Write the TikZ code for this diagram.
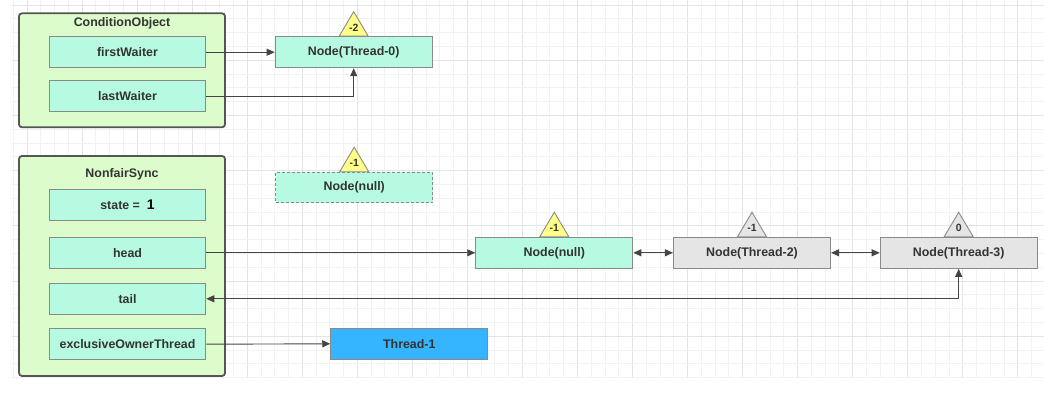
\documentclass[tikz,border=0pt]{standalone}
\usepackage{fontspec}
\setmainfont{Liberation Sans}
\usetikzlibrary{arrows.meta,calc}
\definecolor{gridminor}{HTML}{F2F2F2}
\definecolor{gridmajor}{HTML}{E4E4E4}
\definecolor{contfill}{HTML}{DDFCCB}
\definecolor{contline}{HTML}{555555}
\definecolor{mint}{HTML}{B6FBE1}
\definecolor{boxline}{HTML}{8A8A8A}
\definecolor{txt}{HTML}{333333}
\definecolor{yel}{HTML}{FFFF88}
\definecolor{graynode}{HTML}{E5E5E5}
\definecolor{bluenode}{HTML}{35B5FF}
\definecolor{arrline}{HTML}{444444}
\tikzset{
  container/.style={draw=contline, fill=contfill, line width=1.8pt, rounded corners=3pt},
  fieldbox/.style={draw=boxline, fill=mint, line width=1.1pt, minimum width=156.4pt, minimum height=31pt, inner sep=0pt, text=txt, font=\fontsize{12.4}{14}\selectfont\bfseries},
  nodebox/.style={fieldbox, minimum width=157pt},
  graybox/.style={nodebox, fill=graynode},
  bluebox/.style={nodebox, fill=bluenode},
  dashbox/.style={nodebox, dashed, dash pattern=on 3pt off 2pt, minimum height=30.4pt},
  title/.style={text=txt, font=\fontsize{12.4}{14}\selectfont\bfseries, inner sep=0pt},
  tri/.style={draw=boxline, line width=0.9pt, line join=miter},
  trilabel/.style={text=txt, font=\fontsize{10.5}{12}\selectfont\bfseries, inner sep=0pt},
  arr/.style={draw=arrline, line width=0.9pt, -{Triangle[length=8pt,width=7pt]}},
  darr/.style={draw=arrline, line width=0.9pt, {Triangle[length=8pt,width=7pt]}-{Triangle[length=8pt,width=7pt]}},
}
\newcommand{\mytri}[3]{% node, fill, label
  \draw[tri, fill=#2] ([xshift=-14.5pt]#1.north) -- ([yshift=24.5pt]#1.north) -- ([xshift=14.5pt]#1.north) -- cycle;
  \node[trilabel] (#1lbl) at ([yshift=8.5pt]#1.north) {#3};
}
\begin{document}
\begin{tikzpicture}[x=1pt,y=-1pt]
\useasboundingbox[fill=white] (0,0) rectangle (1044,403);
% grid
\foreach \k in {0,...,74} {
  \pgfmathsetmacro{\gx}{13.3+13.76*\k}
  \pgfmathtruncatemacro{\m}{mod(\k,4)}
  \ifnum\m=1 \draw[gridmajor, line width=0.9pt] (\gx,0) -- (\gx,377.7);
  \else \draw[gridminor, line width=0.9pt] (\gx,0) -- (\gx,377.7); \fi
}
\foreach \k in {0,...,27} {
  \pgfmathsetmacro{\gy}{5+13.8*\k}
  \pgfmathtruncatemacro{\m}{mod(\k,4)}
  \ifnum\m=0 \draw[gridmajor, line width=0.9pt] (12,\gy) -- (1044,\gy);
  \else \draw[gridminor, line width=0.9pt] (12,\gy) -- (1044,\gy); \fi
}
% containers
\draw[container] (19,13.3) rectangle (225,127.3);
\node[title] (cotitle) at (122,23.5) {ConditionObject};
\draw[container] (19,156) rectangle (225,376);
\node[title] (nstitle) at (122,174) {NonfairSync};
% fields
\node[fieldbox] (fw) at (127.5,52.2) {firstWaiter};
\node[fieldbox] (lw) at (127.5,96.3) {lastWaiter};
\node[fieldbox] (st) at (127.5,205) {state =\ \ {\color{black}\fontsize{14}{14}\selectfont 1}};
\node[fieldbox] (hd) at (127.5,252.8) {head};
\node[fieldbox] (tl) at (127.5,298.8) {tail};
\node[fieldbox] (ex) at (127.5,344.2) {exclusiveOwnerThread};
% nodes
\node[nodebox] (t0) at (353.7,52.2) {Node(Thread-0)};
\node[dashbox] (nd) at (354.2,187.5) {Node(null)};
\node[nodebox] (nn) at (554.3,252.8) {Node(null)};
\node[graybox] (t2) at (752,252.8) {Node(Thread-2)};
\node[graybox] (t3) at (958.7,252.8) {Node(Thread-3)};
\node[bluebox] (t1) at (409.3,343.8) {Thread-1};
% triangles
\mytri{t0}{yel}{-2}
\mytri{nd}{yel}{-1}
\mytri{nn}{yel}{-1}
\mytri{t2}{graynode}{-1}
\mytri{t3}{graynode}{0}
% connectors
\draw[arr] (fw.east) -- (t0.west);
\draw[arr] (lw.east) -| (t0.south);
\draw[arr] (hd.east) -- (nn.west);
\draw[darr] (nn.east) -- (t2.west);
\draw[darr] (t2.east) -- (t3.west);
\draw[darr] (t3.south) |- (tl.east);
\draw[arr] (ex.east) -- (t1.west);
\end{tikzpicture}
\end{document}
